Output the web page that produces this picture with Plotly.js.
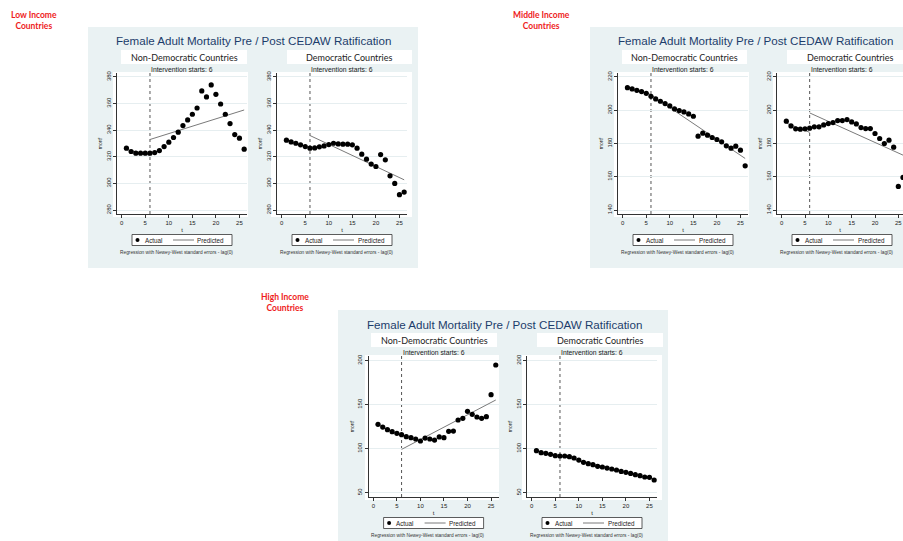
<!DOCTYPE html>
<html>
<head>
<meta charset="utf-8">
<script src="https://cdn.plot.ly/plotly-3.0.1.min.js"></script>
<style>
html,body{margin:0;padding:0;background:#ffffff;}
#chart{width:903px;height:541px;}
</style>
</head>
<body>
<div id="chart"></div>
<script>
// ---------------- data ----------------
const t = [1,2,3,4,5,6,7,8,9,10,11,12,13,14,15,16,17,18,19,20,21,22,23,24,25,26];
const interventionT = 6;
const xTickVals = [0,5,10,15,20,25];
const lowTicks = [280,300,320,340,360,380];
const middleTicks = [140,160,180,200,220];
const highTicks = [50,100,150,200];
const predT = [1,6,null,6,26];

const lowNonDemActual = [326.5,324.0,322.7,322.7,322.7,322.7,323.2,324.7,327.7,331.0,334.5,338.5,343.5,347.7,352.0,356.7,369.5,365.0,374.0,367.0,359.7,352.0,345.0,336.7,334.0,325.7];
const lowNonDemPred = [325.5,321.1,null,333.0,355.2];
const lowDemActual = [332.5,331.2,330.2,329.0,327.7,326.5,326.7,327.5,328.2,329.2,330.2,329.7,329.5,329.5,329.0,326.5,322.0,318.2,314.5,312.7,321.7,317.7,305.7,300.0,291.5,293.5];
const lowDemPred = [332.5,326.6,null,336.0,302.7];

const middleNonDemActual = [213.6,212.8,212.0,211.2,210.2,208.4,206.8,205.4,204.0,202.6,200.8,199.8,199.0,197.8,196.4,184.4,186.2,185.0,183.6,182.4,181.0,178.6,177.2,178.4,176.0,166.6];
const middleNonDemPred = [213.7,209.5,null,209.2,171.0];
const middleDemActual = [193.4,190.6,188.8,188.6,188.8,189.2,190.0,190.0,191.2,192.0,192.6,193.8,193.8,194.4,193.0,191.8,189.6,189.0,189.0,186.0,183.0,180.0,182.0,177.8,154.2,159.6];
const middleDemPred = [192.3,186.7,null,198.4,173.0];

const highNonDemActual = [127.7,124.6,121.6,119.3,117.4,115.9,113.6,112.5,111.0,108.7,112.1,111.0,109.8,113.3,112.5,119.7,120.0,132.6,134.5,142.4,139.0,136.0,134.5,136.4,161.4,195.1];
const highNonDemPred = [127.3,114.4,null,99.2,155.3];
const highDemActual = [97.7,95.5,94.7,93.6,92.0,91.7,91.7,90.9,89.4,87.1,84.5,83.0,81.8,79.9,79.2,78.0,76.9,75.8,74.2,73.1,71.9,70.5,69.3,67.8,67.4,64.4];
const highDemPred = [97.4,90.7,null,92.0,65.0];

const groupLabels = ['Low Income<br>Countries','Middle Income<br>Countries','High Income<br>Countries'];
const chartTitle = 'Female Adult Mortality Pre / Post CEDAW Ratification';
const panelTitles = ['Non-Democratic Countries','Democratic Countries'];
const subTitle = 'Intervention starts: 6';
const legendLabels = ['Actual','Predicted'];
const noteText = 'Regression with Newey-West standard errors - lag(0)';
const yTitle = 'mortf';
const xTitle = 't';

// ---------------- layout geometry (pixels) ----------------
const W = 903, H = 541;
const px = v => v / W;
const py = v => 1 - v / H;

const blocks = [
  {label: groupLabels[0], labelPos: [34, 20.5], bg: [88, 418], top: 27, bottom: 268, titleX: 253,
   panels: [
     {actual: lowNonDemActual, pred: lowNonDemPred, ticks: lowTicks, axisL: 117, domR: 247, xMax: 26.6, yRange: [277, 383], box: [121, 247], white: [113, 248], title: panelTitles[0]},
     {actual: lowDemActual, pred: lowDemPred, ticks: lowTicks, axisL: 277, domR: 407, xMax: 26.6, yRange: [277, 383], box: [287, 412], white: [271, 412], title: panelTitles[1]}
   ]},
  {label: groupLabels[1], labelPos: [541, 20.5], bg: [590, 903], top: 27, bottom: 268, titleX: 755,
   panels: [
     {actual: middleNonDemActual, pred: middleNonDemPred, ticks: middleTicks, axisL: 618, domR: 748, xMax: 26.6, yRange: [137.6, 222.4], box: [622, 747], white: [614, 749], title: panelTitles[0]},
     {actual: middleDemActual, pred: middleDemPred, ticks: middleTicks, axisL: 777, domR: 903, xMax: 26.0, yRange: [137.6, 222.4], box: [787, 903], white: [773, 903], title: panelTitles[1], centerX: 850, subX: 842}
   ]},
  {label: groupLabels[2], labelPos: [285, 302.5], bg: [338, 668], top: 310, bottom: 541, titleX: 504,
   panels: [
     {actual: highNonDemActual, pred: highNonDemPred, ticks: highTicks, axisL: 368.6, domR: 498.6, xMax: 26.6, yRange: [45.1, 205.3], box: [371, 497], white: [365, 499], title: panelTitles[0]},
     {actual: highDemActual, pred: highDemPred, ticks: highTicks, axisL: 527, domR: 657, xMax: 26.6, yRange: [45.1, 205.3], box: [537, 663], white: [522, 662], title: panelTitles[1]}
   ]}
];

const FONT = 'Liberation Sans, Arial, sans-serif';
const HUM = 'Lato, Liberation Sans, Arial, sans-serif';
const titleColor = '#1c3d6b';
const bgColor = '#eaf2f3';
const predColor = '#7a7a7a';

const traces = [];
const shapes = [];
const annotations = [];
const layout = {
  width: W, height: H,
  margin: {l: 0, r: 0, t: 0, b: 0},
  paper_bgcolor: '#ffffff',
  plot_bgcolor: 'rgba(0,0,0,0)',
  showlegend: false,
  font: {family: FONT, color: '#222', size: 6}
};

// background panels first
blocks.forEach(b => {
  shapes.push({type: 'rect', xref: 'paper', yref: 'paper', layer: 'below',
    x0: px(b.bg[0]), x1: px(b.bg[1]), y0: py(b.bottom), y1: py(b.top),
    fillcolor: bgColor, line: {width: 0}});
});

let idx = 0;
blocks.forEach(b => {
  // red group label
  annotations.push({xref: 'paper', yref: 'paper', x: px(b.labelPos[0]), y: py(b.labelPos[1]),
    xanchor: 'center', yanchor: 'middle', showarrow: false, text: '<b>' + b.label + '</b>',
    font: {family: HUM, size: 8.5, color: '#ee1c1c'}});
  // main title
  annotations.push({xref: 'paper', yref: 'paper', x: px(b.titleX), y: py(b.top + 14),
    xanchor: 'center', yanchor: 'middle', showarrow: false, text: chartTitle,
    font: {family: FONT, size: 11.6, color: titleColor}});

  const top = b.top;
  const plotTop = top + 46, plotBot = top + 187;
  b.panels.forEach(p => {
    idx += 1;
    const xa = idx === 1 ? 'x' : 'x' + idx;
    const ya = idx === 1 ? 'y' : 'y' + idx;
    const xk = idx === 1 ? 'xaxis' : 'xaxis' + idx;
    const yk = idx === 1 ? 'yaxis' : 'yaxis' + idx;

    // white title box
    shapes.push({type: 'rect', xref: 'paper', yref: 'paper', layer: 'below',
      x0: px(p.box[0]), x1: px(p.box[1]), y0: py(top + 37), y1: py(top + 23),
      fillcolor: '#ffffff', line: {width: 0}});
    // white plot region
    shapes.push({type: 'rect', xref: 'paper', yref: 'paper', layer: 'below',
      x0: px(p.white[0]), x1: px(p.white[1]), y0: py(plotBot + 3), y1: py(plotTop - 1),
      fillcolor: '#ffffff', line: {width: 0}});

    const cx = p.centerX !== undefined ? p.centerX : (p.box[0] + p.box[1]) / 2;
    annotations.push({xref: 'paper', yref: 'paper', x: px(cx), y: py(top + 30),
      xanchor: 'center', yanchor: 'middle', showarrow: false, text: p.title,
      font: {family: HUM, size: 9, color: '#222'}});
    const sx = p.subX !== undefined ? p.subX : (p.axisL + p.domR) / 2;
    annotations.push({xref: 'paper', yref: 'paper', x: px(sx), y: py(top + 42),
      xanchor: 'center', yanchor: 'middle', showarrow: false, text: subTitle,
      font: {family: FONT, size: 6.8, color: '#222'}});

    // axes
    layout[xk] = {
      domain: [px(p.axisL), Math.min(1, px(p.domR))], anchor: ya,
      range: [-1, p.xMax], tickmode: 'array', tickvals: xTickVals,
      ticks: 'outside', ticklen: 3, tickwidth: 1, tickcolor: '#333',
      showline: true, linecolor: '#333', linewidth: 1,
      showgrid: false, zeroline: false, fixedrange: true,
      tickfont: {size: 6, family: FONT, color: '#222'},
      title: {text: xTitle, font: {size: 6, family: FONT, color: '#222'}, standoff: 2}
    };
    layout[yk] = {
      domain: [py(plotBot), py(plotTop)], anchor: xa,
      range: p.yRange, tickmode: 'array', tickvals: p.ticks,
      ticks: 'outside', ticklen: 3, tickwidth: 1, tickcolor: '#333', tickangle: -90,
      showline: true, linecolor: '#333', linewidth: 1,
      showgrid: true, gridcolor: '#e6eef0', gridwidth: 1, zeroline: false, fixedrange: true,
      tickfont: {size: 6, family: FONT, color: '#222'},
      title: {text: yTitle, font: {size: 5, family: FONT, color: '#222'}, standoff: 2}
    };

    // intervention line
    shapes.push({type: 'line', xref: xa, yref: ya + ' domain', layer: 'below',
      x0: interventionT, x1: interventionT, y0: 0, y1: 1,
      line: {color: '#555', width: 1, dash: 'dot'}});

    // traces
    traces.push({type: 'scatter', mode: 'lines', x: predT, y: p.pred, xaxis: xa, yaxis: ya,
      name: legendLabels[1], line: {color: predColor, width: 1}, connectgaps: false,
      hoverinfo: 'skip', cliponaxis: true});
    traces.push({type: 'scatter', mode: 'markers', x: t, y: p.actual, xaxis: xa, yaxis: ya,
      name: legendLabels[0], marker: {color: '#000', size: 5.2}, cliponaxis: false});

    // manual legend
    const lc = top + 213;
    const L = p.axisL;
    shapes.push({type: 'rect', xref: 'paper', yref: 'paper', layer: 'above',
      x0: px(L + 15), x1: px(L + 115), y0: py(lc + 5.5), y1: py(lc - 5.5),
      fillcolor: '#ffffff', line: {color: '#333', width: 0.8}});
    shapes.push({type: 'circle', xref: 'paper', yref: 'paper', layer: 'above',
      x0: px(L + 18.5), x1: px(L + 22.5), y0: py(lc + 2), y1: py(lc - 2),
      fillcolor: '#000', line: {width: 0}});
    shapes.push({type: 'line', xref: 'paper', yref: 'paper', layer: 'above',
      x0: px(L + 56), x1: px(L + 77), y0: py(lc), y1: py(lc),
      line: {color: predColor, width: 1}});
    annotations.push({xref: 'paper', yref: 'paper', x: px(L + 25.5), y: py(lc),
      xanchor: 'left', yanchor: 'middle', showarrow: false, text: legendLabels[0],
      font: {family: FONT, size: 6.3, color: '#222'}});
    annotations.push({xref: 'paper', yref: 'paper', x: px(L + 109.5), y: py(lc),
      xanchor: 'right', yanchor: 'middle', showarrow: false, text: legendLabels[1],
      font: {family: FONT, size: 6.3, color: '#222'}});
    annotations.push({xref: 'paper', yref: 'paper', x: px(L + 0.5), y: py(lc + 12),
      xanchor: 'left', yanchor: 'middle', showarrow: false, text: noteText,
      font: {family: FONT, size: 4.8, color: '#333'}});
  });
});

layout.shapes = shapes;
layout.annotations = annotations;

Plotly.newPlot('chart', traces, layout, {displayModeBar: false, staticPlot: true});
</script>
</body>
</html>
